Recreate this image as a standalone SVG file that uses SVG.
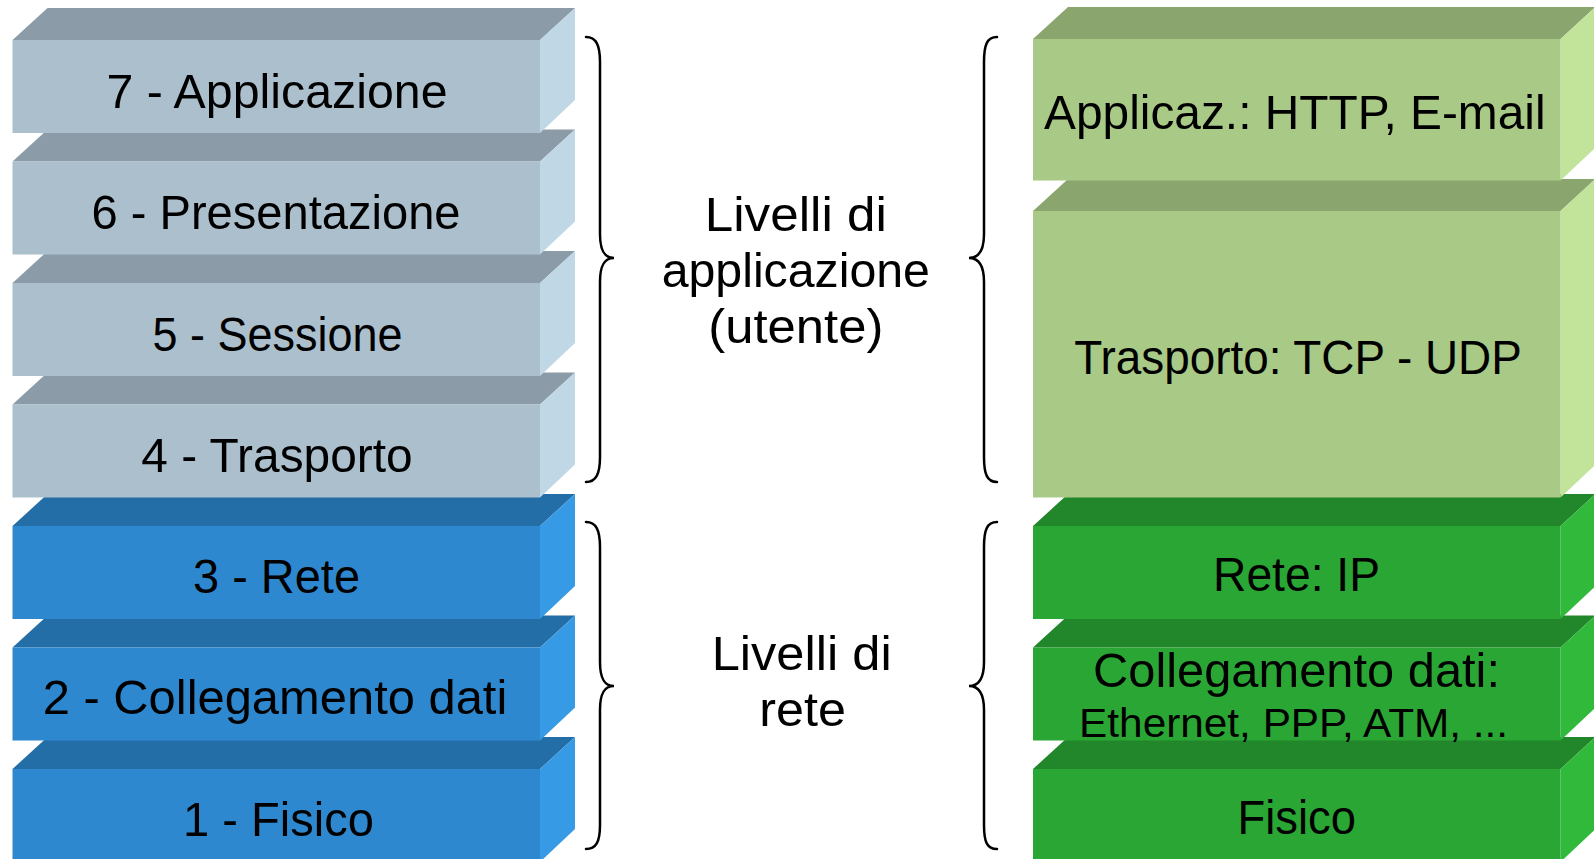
<svg xmlns="http://www.w3.org/2000/svg" width="1594" height="859" viewBox="0 0 1594 859">
<style>
text{font-family:"Liberation Sans",Arial,sans-serif;fill:#000;text-anchor:middle}
.t{font-size:49px}
.s{font-size:41.5px}
.m{font-size:48px}
.gf{fill:#ABBFCD}.gt{fill:#8B9CA8}.gs{fill:#C0D7E6}
.bf{fill:#2E88CF}.bt{fill:#246EA8}.bs{fill:#379AE4}
.lf{fill:#A9C987}.lt{fill:#8AA66E}.ls{fill:#C1E39A}
.df{fill:#2AA634}.dt{fill:#22862A}.ds{fill:#31B93B}
.br{fill:none;stroke:#000;stroke-width:2.5;stroke-linecap:round}
</style>
<rect width="1594" height="859" fill="#fff"/>
<!-- left OSI stack, drawn bottom to top -->
<g id="osi1"><polygon class="bt" points="12.5,769 47.5,737 575,737 540,769"/><polygon class="bs" points="540,769 575,737 575,829 540,862"/><rect class="bf" x="12.5" y="769" width="527.5" height="93"/><text class="t" x="278.5" y="835.6" textLength="191" lengthAdjust="spacingAndGlyphs">1 - Fisico</text></g>
<g id="osi2"><polygon class="bt" points="12.5,647.5 47.5,615.5 575,615.5 540,647.5"/><polygon class="bs" points="540,647.5 575,615.5 575,707.5 540,740.5"/><rect class="bf" x="12.5" y="647.5" width="527.5" height="93"/><text class="t" x="275" y="713.6" textLength="464.6" lengthAdjust="spacingAndGlyphs">2 - Collegamento dati</text></g>
<g id="osi3"><polygon class="bt" points="12.5,526 47.5,494 575,494 540,526"/><polygon class="bs" points="540,526 575,494 575,586 540,619"/><rect class="bf" x="12.5" y="526" width="527.5" height="93"/><text class="t" x="276.5" y="592.7" textLength="167" lengthAdjust="spacingAndGlyphs">3 - Rete</text></g>
<g id="osi4"><polygon class="gt" points="12.5,404.5 47.5,372.5 575,372.5 540,404.5"/><polygon class="gs" points="540,404.5 575,372.5 575,464.5 540,497.5"/><rect class="gf" x="12.5" y="404.5" width="527.5" height="93"/><text class="t" x="277" y="471.7" textLength="271.4" lengthAdjust="spacingAndGlyphs">4 - Trasporto</text></g>
<g id="osi5"><polygon class="gt" points="12.5,283 47.5,251 575,251 540,283"/><polygon class="gs" points="540,283 575,251 575,343 540,376"/><rect class="gf" x="12.5" y="283" width="527.5" height="93"/><text class="t" x="277.5" y="350.7" textLength="250" lengthAdjust="spacingAndGlyphs">5 - Sessione</text></g>
<g id="osi6"><polygon class="gt" points="12.5,161.5 47.5,129.5 575,129.5 540,161.5"/><polygon class="gs" points="540,161.5 575,129.5 575,221.5 540,254.5"/><rect class="gf" x="12.5" y="161.5" width="527.5" height="93"/><text class="t" x="276" y="228.7" textLength="369" lengthAdjust="spacingAndGlyphs">6 - Presentazione</text></g>
<g id="osi7"><polygon class="gt" points="12.5,40 47.5,8 575,8 540,40"/><polygon class="gs" points="540,40 575,8 575,100 540,133"/><rect class="gf" x="12.5" y="40" width="527.5" height="93"/><text class="t" x="277" y="107.8" textLength="341" lengthAdjust="spacingAndGlyphs">7 - Applicazione</text></g>
<!-- right TCP/IP stack -->
<g id="tcp-fisico"><polygon class="dt" points="1033,769 1068,737 1595.5,737 1560.5,769"/><polygon class="ds" points="1560.5,769 1595.5,737 1595.5,829 1560.5,862"/><rect class="df" x="1033" y="769" width="527.5" height="93"/><text class="t" x="1296.8" y="833.5" textLength="118.5" lengthAdjust="spacingAndGlyphs">Fisico</text></g>
<g id="tcp-collegamento"><polygon class="dt" points="1033,647.5 1068,615.5 1595.5,615.5 1560.5,647.5"/><polygon class="ds" points="1560.5,647.5 1595.5,615.5 1595.5,707.5 1560.5,740.5"/><rect class="df" x="1033" y="647.5" width="527.5" height="93"/><text class="t" x="1296.5" y="687" textLength="407" lengthAdjust="spacingAndGlyphs">Collegamento dati:</text><text class="s" x="1293.6" y="736.7" textLength="429" lengthAdjust="spacingAndGlyphs">Ethernet, PPP, ATM, ...</text></g>
<g id="tcp-rete"><polygon class="dt" points="1033,526 1068,494 1595.5,494 1560.5,526"/><polygon class="ds" points="1560.5,526 1595.5,494 1595.5,586 1560.5,619"/><rect class="df" x="1033" y="526" width="527.5" height="93"/><text class="t" x="1296.5" y="591" textLength="167" lengthAdjust="spacingAndGlyphs">Rete: IP</text></g>
<g id="tcp-trasporto"><polygon class="lt" points="1033,211 1068,179 1595.5,179 1560.5,211"/><polygon class="ls" points="1560.5,211 1595.5,179 1595.5,464.5 1560.5,497.5"/><rect class="lf" x="1033" y="211" width="527.5" height="286.5"/><text class="t" x="1298" y="374" textLength="447.5" lengthAdjust="spacingAndGlyphs">Trasporto: TCP - UDP</text></g>
<g id="tcp-applicazione"><polygon class="lt" points="1033,39 1068,7 1595.5,7 1560.5,39"/><polygon class="ls" points="1560.5,39 1595.5,7 1595.5,147.5 1560.5,180.5"/><rect class="lf" x="1033" y="39" width="527.5" height="141.5"/><text class="t" x="1294.8" y="129" textLength="501.5" lengthAdjust="spacingAndGlyphs">Applicaz.: HTTP, E-mail</text></g>
<!-- middle labels -->
<g id="label-applicazione"><text class="m" x="795.8" y="230.7" textLength="182" lengthAdjust="spacingAndGlyphs">Livelli di</text><text class="m" x="795.8" y="287.3" textLength="268.3" lengthAdjust="spacingAndGlyphs">applicazione</text><text class="m" x="795.8" y="343.3" textLength="175" lengthAdjust="spacingAndGlyphs">(utente)</text></g>
<g id="label-rete"><text class="m" x="801.7" y="670" textLength="180" lengthAdjust="spacingAndGlyphs">Livelli di</text><text class="m" x="802.7" y="726" textLength="86.7" lengthAdjust="spacingAndGlyphs">rete</text></g>
<!-- braces -->
<g id="connectors">
<path class="br" d="M586,37 C596,37 600,45 600,62 L600,234 C600,250 604,258 614,258 C604,258 600,266 600,282 L600,457 C600,474 596,482 586,482"/>
<path class="br" d="M997,37 C987,37 984,45 984,62 L984,234 C984,250 979,258 969,258 C979,258 984,266 984,282 L984,457 C984,474 987,482 997,482"/>
<path class="br" d="M586,522 C596,522 600,530 600,547 L600,662 C600,678 604,686 614,686 C604,686 600,694 600,710 L600,825 C600,842 596,849 586,849"/>
<path class="br" d="M997,522 C987,522 984,530 984,547 L984,662 C984,678 979,686 969,686 C979,686 984,694 984,710 L984,825 C984,842 987,849 997,849"/>
</g>
</svg>
